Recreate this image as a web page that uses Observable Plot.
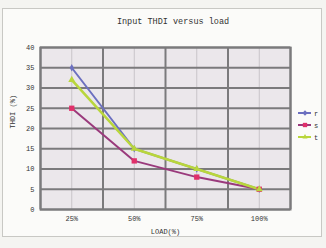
<!DOCTYPE html>
<html><head><meta charset="utf-8">
<script src="https://cdn.jsdelivr.net/npm/d3@7"></script>
<script src="https://cdn.jsdelivr.net/npm/@observablehq/plot@0.6"></script>
<style>
body{margin:0;background:#f4f4f1;}
#wrap{position:relative;width:326px;height:248px;overflow:hidden;background:#f4f4f1;font-family:"Liberation Mono",monospace;}
#frame{position:absolute;left:2px;top:8px;width:318px;height:227px;border:1px solid #c8c8c4;background:#fbfbf9;}
#title{position:absolute;left:0;top:17px;width:346px;text-align:center;font-size:8.5px;color:#333;}
#chart{position:absolute;left:0;top:0;}
#legend{position:absolute;left:297px;top:107px;}
</style></head>
<body><div id="wrap"><div id="frame"></div><div id="title">Input THDI versus load</div><div id="chart"></div><div id="legend"></div></div>
<script>
const categories = ["25%","50%","75%","100%"];
const seriesNames = ["r","s","t"];
const rValues = [35, 15, 10, 5];
const sValues = [25, 12, 8, 5];
const tValues = [32, 15, 10, 5];
const yTicks = [0,5,10,15,20,25,30,35,40];

const colors = {r:"#6c70c0", s:"#9a3a7c", t:"#b9d63c"};
const markColors = {r:"#6c70c0", s:"#e0306a", t:"#b9d63c"};
const widths = {r:2, s:2, t:2.6};
const symbols = {r:"diamond", s:"square", t:"triangle"};
const sizes = {r:2.2, s:3, t:2.6};

const valuesBy = {r:rValues, s:sValues, t:tValues};
const data = [];
for (const s of seriesNames) valuesBy[s].forEach((v,i)=>data.push({series:s, cat:categories[i], idx:i+1, value:v}));
const centers = categories.map((c,i)=>i+1);
const bounds = d3.range(0.5, categories.length+1, 1);

const plot = Plot.plot({
  width:326, height:248,
  marginLeft:40, marginRight:36, marginTop:47, marginBottom:39,
  style:{background:"transparent", fontFamily:"Liberation Mono, monospace", fontSize:"7px", color:"#333"},
  x:{domain:[0.5, categories.length+0.5], ticks:centers, tickFormat:d=>categories[d-1], tickSize:0, tickPadding:7, label:null},
  y:{domain:[0,40], ticks:yTicks, tickSize:0, tickPadding:6, label:null},
  marks:[
    Plot.frame({fill:"#ebe7eb", stroke:null}),
    Plot.ruleX(centers, {stroke:"#c8c4c9", strokeWidth:1}),
    Plot.ruleY(yTicks, {stroke:"#7b7a7c", strokeWidth:2}),
    Plot.ruleX(bounds, {stroke:"#7b7a7c", strokeWidth:2}),
    Plot.frame({stroke:"#7b7a7c", strokeWidth:2}),
    ...seriesNames.map(s=>Plot.line(data.filter(d=>d.series===s), {x:"idx", y:"value", stroke:colors[s], strokeWidth:widths[s]})),
    ...seriesNames.map(s=>Plot.dot(data.filter(d=>d.series===s), {x:"idx", y:"value", symbol:()=>symbols[s], r:sizes[s], fill:markColors[s], stroke:null})),
    Plot.axisX({ticks:centers, tickFormat:d=>categories[d-1], tickSize:0, tickPadding:7, label:null}),
    Plot.axisY({ticks:yTicks, tickSize:0, tickPadding:6, label:null}),
    Plot.text(["LOAD(%)"], {frameAnchor:"bottom", dy:24, fontSize:7}),
    Plot.text(["THDI (%)"], {frameAnchor:"left", dx:-28, rotate:-90, fontSize:7})
  ]
});
plot.style.overflow = "visible";
document.getElementById("chart").append(plot);

// legend
const lg = d3.select("#legend").append("svg").attr("width",29).attr("height",40);
seriesNames.forEach((s,i)=>{
  const g = lg.append("g").attr("transform",`translate(0,${6+i*12})`);
  g.append("line").attr("x1",1).attr("x2",14).attr("y1",0).attr("y2",0).attr("stroke",colors[s]).attr("stroke-width",2);
  g.append("path").attr("transform","translate(8,0)").attr("d", d3.symbol(s==="r"?d3.symbolDiamond2:s==="s"?d3.symbolSquare2:d3.symbolTriangle2, s==="s"?24:18)()).attr("fill",markColors[s]);
  g.append("text").attr("x",17).attr("y",2.5).attr("font-size",7).attr("font-family","Liberation Mono, monospace").attr("fill","#333").text(s);
});
</script></body></html>
